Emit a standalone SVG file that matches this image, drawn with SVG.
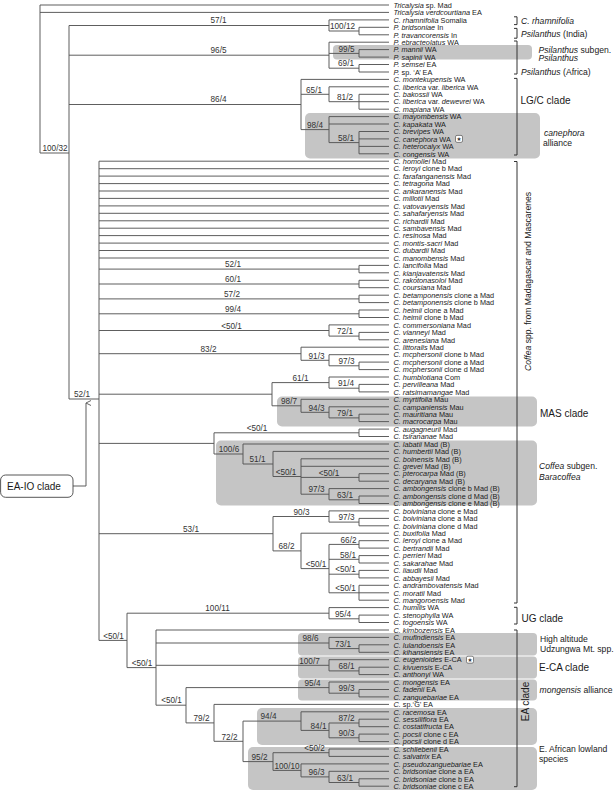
<svg xmlns="http://www.w3.org/2000/svg" width="615" height="791" viewBox="0 0 615 791">
<style>
text{font-family:"Liberation Sans",Arial,sans-serif;}
.lf{font-size:7.3px;fill:#1a1a1a;}
.i{font-style:italic;}
.sv{font-size:8.2px;fill:#333;text-anchor:middle;}
.cl{font-size:8.6px;fill:#1a1a1a;}
.cb{font-size:10px;fill:#1a1a1a;}
.box{fill:#c5c5c5;}
.br{fill:none;stroke:#333;stroke-width:1;}
.ed{fill:none;stroke:#555;stroke-width:0.95;}
.st{fill:#fff;stroke:#555;stroke-width:0.7;}
.sg{font-family:"DejaVu Sans",sans-serif;font-size:5.5px;text-anchor:middle;fill:#333;}
</style>
<defs>
<marker id="ah" markerWidth="8" markerHeight="8" refX="4" refY="1" orient="auto-start-reverse" markerUnits="userSpaceOnUse">
<path d="M1.5,6 L4,1 L6.5,6" fill="none" stroke="#555" stroke-width="0.9"/>
</marker>
</defs>
<g id="clade-boxes">
<rect class="box" x="333" y="45" width="199" height="14.5" rx="4"/>
<rect class="box" x="305" y="113" width="235" height="45.5" rx="5"/>
<rect class="box" x="277" y="396.5" width="260" height="30" rx="5"/>
<rect class="box" x="216" y="440.5" width="321" height="65" rx="5"/>
<rect class="box" x="298" y="633" width="239" height="22.5" rx="4"/>
<rect class="box" x="298" y="656.5" width="239" height="22" rx="4"/>
<rect class="box" x="298" y="679.5" width="239" height="21" rx="4"/>
<rect class="box" x="257" y="708" width="280" height="37" rx="5"/>
<rect class="box" x="248" y="747" width="289" height="43" rx="5"/>
</g>
<g id="connectors">
<path class="ed" d="M40 5V153 M40 5H389 M40 12.4H389 M40 153H69
M69 25.5V399 M69 25.5H329 M69 55.2H329 M69 104.5H301 M69 399H99
M329 19.9V31 M329 19.9H389 M329 31H359 M359 27.3V34.8 M359 27.3H389 M359 34.8H389
M329 42.2V68.2 M329 42.2H389 M329 53.4H359 M329 68.2H359
M359 49.6V57.1 M359 49.6H389 M359 57.1H389 M359 64.5V72 M359 64.5H389 M359 72H389
M301 79.4V129.6 M301 79.4H389 M301 94.3H329 M301 129.6H329
M329 86.8V101.7 M329 86.8H389 M329 101.7H359
M359 94.3V109.2 M359 94.3H389 M359 101.7H389 M359 109.2H389
M329 116.6V142.6 M329 116.6H389 M329 124H389 M329 142.6H359
M359 131.5V153.8 M359 131.5H389 M359 138.9H389 M359 146.4H389 M359 153.8H389
M99 161.2V640.4
M99 161.2H389 M99 168.7H389 M99 176.1H389 M99 183.6H389 M99 191H389 M99 198.4H389 M99 205.9H389
M99 213.3H389 M99 220.8H389 M99 228.2H389 M99 235.6H389 M99 243.1H389 M99 250.5H389 M99 258H389
M99 269.1H359 M99 284H359 M99 298.9H359 M99 313.8H359 M99 330.5H329 M99 353.7H301 M99 394.2H272 M99 443.4H214 M99 533.7H273 M99 640.4H127
M359 265.4V272.8 M359 265.4H389 M359 272.8H389
M359 280.3V287.7 M359 280.3H389 M359 287.7H389
M359 295.2V302.6 M359 295.2H389 M359 302.6H389
M359 310V317.5 M359 310H389 M359 317.5H389
M329 324.9V336.1 M329 324.9H389 M329 336.1H359 M359 332.4V339.8 M359 332.4H389 M359 339.8H389
M301 347.2V360.3 M301 347.2H389 M301 360.3H329 M329 354.7V365.8 M329 354.7H389 M329 365.8H359 M359 362.1V369.6 M359 362.1H389 M359 369.6H389
M272 382.6V405.8 M272 382.6H329 M272 405.8H301
M329 377V388.2 M329 377H389 M329 388.2H359 M359 384.4V391.9 M359 384.4H389 M359 391.9H389
M301 399.3V412.3 M301 399.3H389 M301 412.3H329 M329 406.8V417.9 M329 406.8H389 M329 417.9H359 M359 414.2V421.6 M359 414.2H389 M359 421.6H389
M214 432.8V454 M214 432.8H359 M214 454H243 M359 429.1V436.5 M359 429.1H389 M359 436.5H389
M243 444V464 M243 444H389 M243 464H273
M273 451.4V476.5 M273 451.4H389 M273 476.5H301
M301 458.8V494.2 M301 458.8H389 M301 466.3H389 M301 477.4H359 M301 494.2H329
M359 473.7V481.2 M359 473.7H389 M359 481.2H389
M329 488.6V499.8 M329 488.6H389 M329 499.8H359 M359 496V503.5 M359 496H389 M359 503.5H389
M273 516.5V550.9 M273 516.5H329 M273 550.9H301
M329 510.9V522.1 M329 510.9H389 M329 522.1H359 M359 518.4V525.8 M359 518.4H389 M359 525.8H389
M301 533.2V568.6 M301 533.2H389 M301 568.6H329
M329 544.4V592.8 M329 544.4H359 M329 559.3H359 M329 574.2H359 M329 592.8H359
M359 540.7V548.1 M359 540.7H389 M359 548.1H389
M359 555.6V563 M359 555.6H389 M359 563H389
M359 570.4V577.9 M359 570.4H389 M359 577.9H389
M359 585.3V600.2 M359 585.3H389 M359 592.8H389 M359 600.2H389
M127 613.2V667.6 M127 613.2H329 M127 667.6H156
M329 607.6V618.8 M329 607.6H389 M329 618.8H359 M359 615.1V622.5 M359 615.1H389 M359 622.5H389
M156 630V705.2 M156 630H389 M156 643H329 M156 665.3H329 M156 705.2H186
M329 637.4V648.6 M329 637.4H389 M329 648.6H359 M359 644.8V652.3 M359 644.8H389 M359 652.3H389
M329 659.7V670.9 M329 659.7H389 M329 670.9H359 M359 667.2V674.6 M359 667.2H389 M359 674.6H389
M186 687.6V722.9 M186 687.6H329 M186 722.9H214
M329 682V693.2 M329 682H389 M329 693.2H359 M359 689.5V696.9 M359 689.5H389 M359 696.9H389
M214 704.4V741.3 M214 704.4H389 M214 741.3H243
M243 721.1V761.6 M243 721.1H301 M243 761.6H273
M301 711.8V730.4 M301 711.8H389 M301 730.4H329
M329 723V737.8 M329 723H359 M329 737.8H359
M359 719.2V726.7 M359 719.2H389 M359 726.7H389 M359 734.1V741.6 M359 734.1H389 M359 741.6H389
M273 752.7V770.4 M273 752.7H329 M273 770.4H301
M329 749V756.4 M329 749H389 M329 756.4H389
M301 763.9V776.9 M301 763.9H389 M301 776.9H329
M329 771.3V782.5 M329 771.3H389 M329 782.5H359 M359 778.8V786.2 M359 778.8H389 M359 786.2H389"/>
<path class="ed" d="M73 486H86V403" marker-end="url(#ah)"/>
</g>
<g id="support-values">
<text class="sv" x="55" y="150.9">100/32</text>
<text class="sv" x="218.5" y="23.2">57/1</text>
<text class="sv" x="342.5" y="29.2">100/12</text>
<text class="sv" x="218.5" y="52.6">96/5</text>
<text class="sv" x="346.5" y="51.6">99/5</text>
<text class="sv" x="346" y="66.4">69/1</text>
<text class="sv" x="218.5" y="102">86/4</text>
<text class="sv" x="314" y="92.5">65/1</text>
<text class="sv" x="345" y="99.9">81/2</text>
<text class="sv" x="315" y="127.8">98/4</text>
<text class="sv" x="346" y="140.8">58/1</text>
<text class="sv" x="82" y="397.2">52/1</text>
<text class="sv" x="233" y="267.3">52/1</text>
<text class="sv" x="233" y="282.2">60/1</text>
<text class="sv" x="232" y="297.1">57/2</text>
<text class="sv" x="233" y="312">99/4</text>
<text class="sv" x="231.5" y="328.7">&lt;50/1</text>
<text class="sv" x="345" y="334.3">72/1</text>
<text class="sv" x="208.5" y="351.9">83/2</text>
<text class="sv" x="316.5" y="358.5">91/3</text>
<text class="sv" x="346.5" y="364">97/3</text>
<text class="sv" x="300.5" y="380.8">61/1</text>
<text class="sv" x="346" y="386.4">91/4</text>
<text class="sv" x="289" y="404">98/7</text>
<text class="sv" x="316.5" y="410.5">94/3</text>
<text class="sv" x="345" y="416.1">79/1</text>
<text class="sv" x="257" y="431">&lt;50/1</text>
<text class="sv" x="229" y="452.2">100/6</text>
<text class="sv" x="257.5" y="462.2">51/1</text>
<text class="sv" x="286" y="474.7">&lt;50/1</text>
<text class="sv" x="329" y="475.6">&lt;50/1</text>
<text class="sv" x="316.5" y="492.4">97/3</text>
<text class="sv" x="345" y="498">63/1</text>
<text class="sv" x="191" y="531.9">53/1</text>
<text class="sv" x="301.5" y="514.7">90/3</text>
<text class="sv" x="346.5" y="520.3">97/3</text>
<text class="sv" x="286.5" y="549.1">68/2</text>
<text class="sv" x="316" y="566.8">&lt;50/1</text>
<text class="sv" x="348.5" y="542.6">66/2</text>
<text class="sv" x="348" y="557.5">58/1</text>
<text class="sv" x="345.5" y="572.4">&lt;50/1</text>
<text class="sv" x="345.5" y="591">&lt;50/1</text>
<text class="sv" x="113.5" y="638.6">&lt;50/1</text>
<text class="sv" x="217.5" y="611.4">100/11</text>
<text class="sv" x="343" y="617">95/4</text>
<text class="sv" x="142" y="665.8">&lt;50/1</text>
<text class="sv" x="310.5" y="641.2">98/6</text>
<text class="sv" x="343" y="646.8">73/1</text>
<text class="sv" x="309.5" y="663.5">100/7</text>
<text class="sv" x="346.5" y="669.1">68/1</text>
<text class="sv" x="171.5" y="703.4">&lt;50/1</text>
<text class="sv" x="312.5" y="685.8">95/4</text>
<text class="sv" x="346.5" y="691.4">99/3</text>
<text class="sv" x="201.5" y="721.1">79/2</text>
<text class="sv" x="229.5" y="739.5">72/2</text>
<text class="sv" x="268.5" y="719.3">94/4</text>
<text class="sv" x="346.5" y="721.2">87/2</text>
<text class="sv" x="318.5" y="728.6">84/1</text>
<text class="sv" x="346.5" y="736">90/3</text>
<text class="sv" x="259.5" y="759.8">95/2</text>
<text class="sv" x="314.5" y="750.9">&lt;50/2</text>
<text class="sv" x="287" y="768.6">100/10</text>
<text class="sv" x="316.5" y="775.1">96/3</text>
<text class="sv" x="345" y="780.7">63/1</text>
</g>
<g id="leaves" class="lf">
<g id="n1"><text x="393.5" y="7.7"><tspan class="i">Tricalysia</tspan> sp.  Mad</text></g>
<g id="n2"><text x="393.5" y="15.1"><tspan class="i">Tricalysia verdcourtiana</tspan> EA</text></g>
<g id="n3"><text x="393.5" y="22.6"><tspan class="i">C. rhamnifolia</tspan> Somalia</text></g>
<g id="n4"><text x="393.5" y="30"><tspan class="i">P. bridsoniae</tspan> In</text></g>
<g id="n5"><text x="393.5" y="37.5"><tspan class="i">P. travancorensis</tspan> In</text></g>
<g id="n6"><text x="393.5" y="44.9"><tspan class="i">P. ebracteolatus</tspan> WA</text></g>
<g id="n7"><text x="393.5" y="52.3"><tspan class="i">P. mannii</tspan> WA</text></g>
<g id="n8"><text x="393.5" y="59.8"><tspan class="i">P. sapinii</tspan> WA</text></g>
<g id="n9"><text x="393.5" y="67.2"><tspan class="i">P. semsei</tspan> EA</text></g>
<g id="n10"><text x="393.5" y="74.7"><tspan class="i">P.</tspan> sp. ‘A’  EA</text></g>
<g id="n11"><text x="393.5" y="82.1"><tspan class="i">C. montekupensis</tspan> WA</text></g>
<g id="n12"><text x="393.5" y="89.5"><tspan class="i">C. liberica</tspan> var. <tspan class="i">liberica</tspan> WA</text></g>
<g id="n13"><text x="393.5" y="97"><tspan class="i">C. bakossii</tspan> WA</text></g>
<g id="n14"><text x="393.5" y="104.4"><tspan class="i">C. liberica</tspan> var. <tspan class="i">dewevrei</tspan> WA</text></g>
<g id="n15"><text x="393.5" y="111.9"><tspan class="i">C. mapiana</tspan> WA</text></g>
<g id="n16"><text x="393.5" y="119.3"><tspan class="i">C. mayombensis</tspan> WA</text></g>
<g id="n17"><text x="393.5" y="126.7"><tspan class="i">C. kapakata</tspan> WA</text></g>
<g id="n18"><text x="393.5" y="134.2"><tspan class="i">C. brevipes</tspan> WA</text></g>
<g id="n19"><text x="393.5" y="141.6"><tspan class="i">C. canephora</tspan> WA</text><rect class="st" x="455.5" y="135.4" width="7" height="7" rx="1.5"/><text class="sg" x="459" y="141.1">★</text></g>
<g id="n20"><text x="393.5" y="149.1"><tspan class="i">C. heterocalyx</tspan> WA</text></g>
<g id="n21"><text x="393.5" y="156.5"><tspan class="i">C. congensis</tspan> WA</text></g>
<g id="n22"><text x="393.5" y="163.9"><tspan class="i">C. homollei</tspan> Mad</text></g>
<g id="n23"><text x="393.5" y="171.4"><tspan class="i">C. leroyi</tspan> clone b Mad</text></g>
<g id="n24"><text x="393.5" y="178.8"><tspan class="i">C. farafanganensis</tspan> Mad</text></g>
<g id="n25"><text x="393.5" y="186.3"><tspan class="i">C. tetragona</tspan> Mad</text></g>
<g id="n26"><text x="393.5" y="193.7"><tspan class="i">C. ankaranensis</tspan> Mad</text></g>
<g id="n27"><text x="393.5" y="201.1"><tspan class="i">C. millotii</tspan> Mad</text></g>
<g id="n28"><text x="393.5" y="208.6"><tspan class="i">C. vatovavyensis</tspan> Mad</text></g>
<g id="n29"><text x="393.5" y="216"><tspan class="i">C. sahafaryensis</tspan> Mad</text></g>
<g id="n30"><text x="393.5" y="223.5"><tspan class="i">C. richardii</tspan> Mad</text></g>
<g id="n31"><text x="393.5" y="230.9"><tspan class="i">C. sambavensis</tspan> Mad</text></g>
<g id="n32"><text x="393.5" y="238.3"><tspan class="i">C. resinosa</tspan> Mad</text></g>
<g id="n33"><text x="393.5" y="245.8"><tspan class="i">C. montis-sacri</tspan> Mad</text></g>
<g id="n34"><text x="393.5" y="253.2"><tspan class="i">C. dubardii</tspan> Mad</text></g>
<g id="n35"><text x="393.5" y="260.7"><tspan class="i">C. manombensis</tspan> Mad</text></g>
<g id="n36"><text x="393.5" y="268.1"><tspan class="i">C. lancifolia</tspan> Mad</text></g>
<g id="n37"><text x="393.5" y="275.5"><tspan class="i">C. kianjavatensis</tspan> Mad</text></g>
<g id="n38"><text x="393.5" y="283"><tspan class="i">C. rakotonasoloi</tspan> Mad</text></g>
<g id="n39"><text x="393.5" y="290.4"><tspan class="i">C. coursiana</tspan> Mad</text></g>
<g id="n40"><text x="393.5" y="297.9"><tspan class="i">C. betamponensis</tspan> clone a Mad</text></g>
<g id="n41"><text x="393.5" y="305.3"><tspan class="i">C. betamponensis</tspan> clone b Mad</text></g>
<g id="n42"><text x="393.5" y="312.7"><tspan class="i">C. heimii</tspan> clone a Mad</text></g>
<g id="n43"><text x="393.5" y="320.2"><tspan class="i">C. heimii</tspan> clone b Mad</text></g>
<g id="n44"><text x="393.5" y="327.6"><tspan class="i">C. commersoniana</tspan> Mad</text></g>
<g id="n45"><text x="393.5" y="335.1"><tspan class="i">C. vianneyi</tspan> Mad</text></g>
<g id="n46"><text x="393.5" y="342.5"><tspan class="i">C. arenesiana</tspan> Mad</text></g>
<g id="n47"><text x="393.5" y="349.9"><tspan class="i">C. littoralis</tspan> Mad</text></g>
<g id="n48"><text x="393.5" y="357.4"><tspan class="i">C. mcphersonii</tspan> clone b Mad</text></g>
<g id="n49"><text x="393.5" y="364.8"><tspan class="i">C. mcphersonii</tspan> clone a Mad</text></g>
<g id="n50"><text x="393.5" y="372.3"><tspan class="i">C. mcphersonii</tspan> clone d Mad</text></g>
<g id="n51"><text x="393.5" y="379.7"><tspan class="i">C. humblotiana</tspan> Com</text></g>
<g id="n52"><text x="393.5" y="387.1"><tspan class="i">C. pervilleana</tspan> Mad</text></g>
<g id="n53"><text x="393.5" y="394.6"><tspan class="i">C. ratsimamangae</tspan> Mad</text></g>
<g id="n54"><text x="393.5" y="402"><tspan class="i">C. myrtifolia</tspan> Mau</text></g>
<g id="n55"><text x="393.5" y="409.5"><tspan class="i">C. campaniensis</tspan> Mau</text></g>
<g id="n56"><text x="393.5" y="416.9"><tspan class="i">C. mauritiana</tspan> Mau</text></g>
<g id="n57"><text x="393.5" y="424.3"><tspan class="i">C. macrocarpa</tspan> Mau</text></g>
<g id="n58"><text x="393.5" y="431.8"><tspan class="i">C. augagneurii</tspan> Mad</text></g>
<g id="n59"><text x="393.5" y="439.2"><tspan class="i">C. tsirananae</tspan> Mad</text></g>
<g id="n60"><text x="393.5" y="446.7"><tspan class="i">C. labatii</tspan> Mad (B)</text></g>
<g id="n61"><text x="393.5" y="454.1"><tspan class="i">C. humbertii</tspan> Mad (B)</text></g>
<g id="n62"><text x="393.5" y="461.5"><tspan class="i">C. boinensis</tspan> Mad (B)</text></g>
<g id="n63"><text x="393.5" y="469"><tspan class="i">C. grevei</tspan> Mad (B)</text></g>
<g id="n64"><text x="393.5" y="476.4"><tspan class="i">C. pterocarpa</tspan> Mad (B)</text></g>
<g id="n65"><text x="393.5" y="483.9"><tspan class="i">C. decaryana</tspan> Mad (B)</text></g>
<g id="n66"><text x="393.5" y="491.3"><tspan class="i">C. ambongensis</tspan> clone b Mad (B)</text></g>
<g id="n67"><text x="393.5" y="498.7"><tspan class="i">C. ambongensis</tspan> clone d Mad (B)</text></g>
<g id="n68"><text x="393.5" y="506.2"><tspan class="i">C. ambongensis</tspan> clone e Mad (B)</text></g>
<g id="n69"><text x="393.5" y="513.6"><tspan class="i">C. boiviniana</tspan> clone e Mad</text></g>
<g id="n70"><text x="393.5" y="521.1"><tspan class="i">C. boiviniana</tspan> clone a Mad</text></g>
<g id="n71"><text x="393.5" y="528.5"><tspan class="i">C. boiviniana</tspan> clone d Mad</text></g>
<g id="n72"><text x="393.5" y="535.9"><tspan class="i">C. buxifolia</tspan> Mad</text></g>
<g id="n73"><text x="393.5" y="543.4"><tspan class="i">C. leroyi</tspan> clone a Mad</text></g>
<g id="n74"><text x="393.5" y="550.8"><tspan class="i">C. bertrandii</tspan> Mad</text></g>
<g id="n75"><text x="393.5" y="558.3"><tspan class="i">C. perrieri</tspan> Mad</text></g>
<g id="n76"><text x="393.5" y="565.7"><tspan class="i">C. sakarahae</tspan> Mad</text></g>
<g id="n77"><text x="393.5" y="573.1"><tspan class="i">C. liaudii</tspan> Mad</text></g>
<g id="n78"><text x="393.5" y="580.6"><tspan class="i">C. abbayesii</tspan> Mad</text></g>
<g id="n79"><text x="393.5" y="588"><tspan class="i">C. andrambovatensis</tspan> Mad</text></g>
<g id="n80"><text x="393.5" y="595.5"><tspan class="i">C. moratii</tspan> Mad</text></g>
<g id="n81"><text x="393.5" y="602.9"><tspan class="i">C. mangoroensis</tspan> Mad</text></g>
<g id="n82"><text x="393.5" y="610.3"><tspan class="i">C. humilis</tspan> WA</text></g>
<g id="n83"><text x="393.5" y="617.8"><tspan class="i">C. stenophylla</tspan> WA</text></g>
<g id="n84"><text x="393.5" y="625.2"><tspan class="i">C. togoensis</tspan> WA</text></g>
<g id="n85"><text x="393.5" y="632.7"><tspan class="i">C. kimbozensis</tspan> EA</text></g>
<g id="n86"><text x="393.5" y="640.1"><tspan class="i">C. mufindiensis</tspan> EA</text></g>
<g id="n87"><text x="393.5" y="647.5"><tspan class="i">C. lulandoensis</tspan> EA</text></g>
<g id="n88"><text x="393.5" y="655"><tspan class="i">C. kihansiensis</tspan> EA</text></g>
<g id="n89"><text x="393.5" y="662.4"><tspan class="i">C. eugenioides</tspan> E-CA</text><rect class="st" x="466.5" y="656.2" width="7" height="7" rx="1.5"/><text class="sg" x="470" y="661.9">★</text></g>
<g id="n90"><text x="393.5" y="669.9"><tspan class="i">C. kivuensis</tspan> E-CA</text></g>
<g id="n91"><text x="393.5" y="677.3"><tspan class="i">C. anthonyi</tspan> WA</text></g>
<g id="n92"><text x="393.5" y="684.7"><tspan class="i">C. mongensis</tspan> EA</text></g>
<g id="n93"><text x="393.5" y="692.2"><tspan class="i">C. fadenii</tspan> EA</text></g>
<g id="n94"><text x="393.5" y="699.6"><tspan class="i">C. zanguebariae</tspan> EA</text></g>
<g id="n95"><text x="393.5" y="707.1"><tspan class="i">C.</tspan> sp.‘G’ EA</text></g>
<g id="n96"><text x="393.5" y="714.5"><tspan class="i">C. racemosa</tspan> EA</text></g>
<g id="n97"><text x="393.5" y="721.9"><tspan class="i">C. sessiliflora</tspan> EA</text></g>
<g id="n98"><text x="393.5" y="729.4"><tspan class="i">C. costatifructa</tspan> EA</text></g>
<g id="n99"><text x="393.5" y="736.8"><tspan class="i">C. pocsii</tspan> clone c EA</text></g>
<g id="n100"><text x="393.5" y="744.3"><tspan class="i">C. pocsii</tspan> clone d EA</text></g>
<g id="n101"><text x="393.5" y="751.7"><tspan class="i">C. schliebenii</tspan> EA</text></g>
<g id="n102"><text x="393.5" y="759.1"><tspan class="i">C. salvatrix</tspan> EA</text></g>
<g id="n103"><text x="393.5" y="766.6"><tspan class="i">C. pseudozanguebariae</tspan> EA</text></g>
<g id="n104"><text x="393.5" y="774"><tspan class="i">C. bridsoniae</tspan> clone a EA</text></g>
<g id="n105"><text x="393.5" y="781.5"><tspan class="i">C. bridsoniae</tspan> clone b EA</text></g>
<g id="n106"><text x="393.5" y="788.9"><tspan class="i">C. bridsoniae</tspan> clone c EA</text></g>
</g>
<g id="brackets">
<path class="br" d="M514 16.8H517V24.6H514 M514 28.4H517V38.2H514 M514 41H517V74H514 M514 78.4H517V155H514 M514 161.5H517V603H514 M514 607.3H517V624H514 M514 630H517V786.7H514"/>
</g>
<g id="clade-labels">
<g id="lab-rhamnifolia"><text class="cl i" x="521" y="24.2">C. rhamnifolia</text></g>
<g id="lab-psil-india"><text class="cl" x="521" y="36.6"><tspan class="i">Psilanthus</tspan> (India)</text></g>
<g id="lab-psil-subgen"><text class="cl" x="538.5" y="53.3"><tspan class="i">Psilanthus</tspan> subgen.</text><text class="cl i" x="538.5" y="61.2">Psilanthus</text></g>
<g id="lab-psil-africa"><text class="cl" x="521" y="74.6"><tspan class="i">Psilanthus</tspan> (Africa)</text></g>
<g id="lab-lgc"><text class="cb" x="520.5" y="104.2">LG/C clade</text></g>
<g id="lab-canephora"><text class="cl i" x="544" y="136.2">canephora</text><text class="cl" x="543" y="145.6">alliance</text></g>
<g id="lab-madagascar"><text class="cl" text-anchor="middle" transform="translate(530.5,281.5) rotate(-90)"><tspan class="i">Coffea</tspan> spp. from Madagascar and Mascarenes</text></g>
<g id="lab-mas"><text class="cb" x="540" y="416.8">MAS clade</text></g>
<g id="lab-baracoffea"><text class="cl" x="539" y="469.2"><tspan class="i">Coffea</tspan> subgen.</text><text class="cl i" x="539" y="480">Baracoffea</text></g>
<g id="lab-ug"><text class="cb" x="521.5" y="621.8">UG clade</text></g>
<g id="lab-highalt"><text class="cl" x="540" y="641.6">High altitude</text><text class="cl" x="540" y="651.6">Udzungwa Mt. spp.</text></g>
<g id="lab-eca"><text class="cb" x="539" y="670.8">E-CA clade</text></g>
<g id="lab-mongensis"><text class="cl" x="539.5" y="693.2"><tspan class="i">mongensis</tspan> alliance</text></g>
<g id="lab-ea"><text class="cb" text-anchor="middle" transform="translate(528.5,701.5) rotate(-90)">EA clade</text></g>
<g id="lab-lowland"><text class="cl" x="539" y="751.6">E. African lowland</text><text class="cl" x="539" y="761.6">species</text></g>
<g id="lab-eaio"><rect x="0.6" y="475" width="72.4" height="22.3" rx="5" fill="#fff" stroke="#444" stroke-width="0.9"/><text class="cb" x="7" y="490">EA-IO clade</text></g>
</g>
</svg>
